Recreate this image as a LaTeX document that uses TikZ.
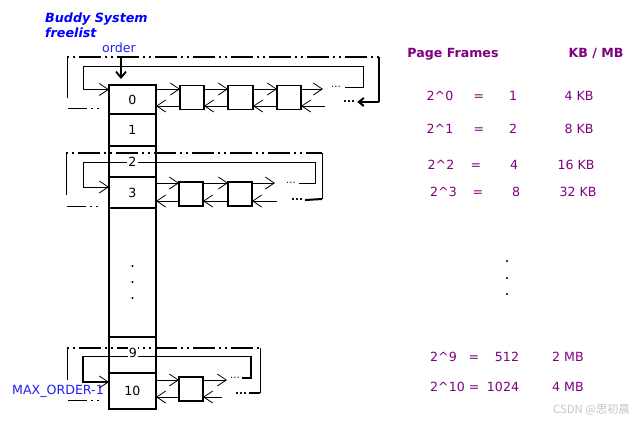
\documentclass[tikz,border=0pt]{standalone}
\usepackage{fontspec}
\setmainfont{DejaVu Sans}
\newfontfamily\cjk{Noto Sans CJK SC}
\usetikzlibrary{arrows.meta,calc}
\definecolor{pur}{HTML}{800080}
\definecolor{lblue}{HTML}{1F1FF0}
\definecolor{wm}{HTML}{C4C4C4}
\tikzset{
 cell/.style={draw,line width=1.6pt,minimum width=47pt,inner sep=0pt,outer sep=0pt},
 blk/.style={draw,line width=1.6pt,minimum width=24pt,minimum height=24pt,inner sep=0pt,outer sep=0pt},
 nx/.style={line width=0.8pt,-{Straight Barb[length=9pt,width=12pt,line width=0.8pt]}},
 ln/.style={line width=0.8pt},
 thk/.style={line width=2pt},
 thkarr/.style={line width=2pt,-{Straight Barb[length=5pt,width=8pt]}},
 ordarr/.style={line width=1.8pt,-{Straight Barb[length=6pt,width=10pt]}},
 ddot/.style={line width=1.3pt,dash pattern=on 2pt off 4pt on 2pt off 4pt on 22pt off 4pt},
 bl/.style={line width=0.8pt,dash pattern=on 19pt off 4pt on 2pt off 4pt on 2pt off 40pt},
 sdots/.style={font=\fontsize{10}{10}\selectfont,inner sep=0pt},
 bdots/.style={font=\fontsize{10.5}{10}\selectfont\bfseries,inner sep=0pt},
 lbl/.style={fill=white,inner sep=1pt},
 ptxt/.style={text=pur,anchor=base,inner sep=0pt},
 pdot/.style={circle,fill,inner sep=0pt,minimum size=2.4pt},
}
\begin{document}
\begin{tikzpicture}[x=1pt,y=-1pt,font=\fontsize{12.6}{14}\selectfont]
\useasboundingbox (0,0) rectangle (636,421);

% titles
\node[anchor=base west,text=blue,inner sep=0pt,font=\fontsize{12.7}{14}\selectfont\bfseries\itshape] (t1) at (45,22) {Buddy System};
\node[anchor=base west,text=blue,inner sep=0pt,font=\fontsize{12.7}{14}\selectfont\bfseries\itshape] (t2) at (45,37) {freelist};
\node[anchor=base,text=lblue,inner sep=0pt] (ord) at (119,52) {order};
\node[anchor=base east,text=lblue,inner sep=0pt] (mx) at (104,394) {MAX\_ORDER-1};

% ---------- list of order 0 ----------
\coordinate (p0a) at (67,98);
\coordinate (p0b) at (67,57);
\coordinate (p0c) at (379,57);
\coordinate (p0d) at (379,102);
\coordinate (q0) at (68,108);
\coordinate (k0a) at (363,66);
\coordinate (k0b) at (83,66);
\coordinate (e0n) at (323,89);
\coordinate (e0p) at (325,106);
\coordinate (o1) at (121,57);

\node[cell,minimum height=29pt] (c0) at (132.5,99.5) {0};
\node[cell,minimum height=32pt] (c1) at (132.5,130) {1};
\node[cell,minimum height=31pt] (c2) at (132.5,161.5) {};
\node[cell,minimum height=31pt] (c3) at (132.5,192.5) {3};
\node[cell,minimum height=129pt] (cd) at (132.5,272.5) {};
\node[cell,minimum height=36pt] (c9) at (132.5,355) {};
\node[cell,minimum height=36pt] (c10) at (132.5,391) {10};

\node[blk] (a1) at (192,97.5) {};
\node[blk,minimum width=25pt] (a2) at (240.5,97.5) {};
\node[blk] (a3) at (289,97.5) {};
\node[sdots] (t0n) at (336,87) {...};
\node[bdots] (t0p) at (349,102) {...};

\draw[ordarr,shorten >=6pt] (o1) -- (c0.north -| o1);

\draw[nx] ($(c0.east|-a1.west)+(0,-8.5)$) -- ($(a1.west)+(0,-8.5)$);
\draw[nx] ($(a1.east)+(0,-8.5)$) -- ($(a2.west)+(0,-8.5)$);
\draw[nx] ($(a2.east)+(0,-8.5)$) -- ($(a3.west)+(0,-8.5)$);
\draw[nx] ($(a3.east)+(0,-8.5)$) -- (e0n);
\draw[nx] ($(a1.west)+(0,8.5)$) -- ($(c0.east|-a1.west)+(0,8.5)$);
\draw[nx] ($(a2.west)+(0,8.5)$) -- ($(a1.east)+(0,8.5)$);
\draw[nx] ($(a3.west)+(0,8.5)$) -- ($(a2.east)+(0,8.5)$);
\draw[nx] (e0p) -- ($(a3.east)+(0,8.5)$);

\draw[nx] ([xshift=4pt]t0n.east) -| (k0a) -| (k0b) |- ($(c0.west)+(0,-10)$);
\draw[ln] (p0a) -- (p0b);
\draw[ddot] (p0b) -- (p0c);
\draw[thk] (p0c) -- (p0d);
\draw[thkarr] (p0d) -- ([xshift=2pt]t0p.east);
\draw[bl] (q0) -- (c0.west|-q0);

% ---------- list of order 3 ----------
\coordinate (p3a) at (66,195);
\coordinate (p3b) at (66,153);
\coordinate (p3c) at (322,153);
\coordinate (p3d) at (322,199);
\coordinate (q3) at (67,206);
\coordinate (k3a) at (315,162);
\coordinate (k3b) at (83,162);
\coordinate (e3n) at (275,183);
\coordinate (e3p) at (277,201);

\node[blk] (b1) at (191,194) {};
\node[blk] (b2) at (240,194) {};
\node[sdots] (t3n) at (291,183) {...};
\node[bdots] (t3p) at (297,200) {...};

\draw[nx] ($(c3.east|-b1.west)+(0,-11)$) -- ($(b1.west)+(0,-11)$);
\draw[nx] ($(b1.east)+(0,-11)$) -- ($(b2.west)+(0,-11)$);
\draw[nx] ($(b2.east)+(0,-11)$) -- (e3n);
\draw[nx] ($(b1.west)+(0,7)$) -- ($(c3.east|-b1.west)+(0,7)$);
\draw[nx] ($(b2.west)+(0,7)$) -- ($(b1.east)+(0,7)$);
\draw[nx] (e3p) -- ($(b2.east)+(0,7)$);

\draw[nx] ([xshift=3pt]t3n.east) -| (k3a) -| (k3b) |- ($(c3.west)+(0,-5.5)$);
\draw[ln] (p3a) -- (p3b);
\draw[ddot] (p3b) -- (p3c);
\draw[ln] (p3c) -- (p3d);
\draw[thk] (p3d) -- ([xshift=2pt]t3p.east);
\draw[bl] (q3) -- (c3.west|-q3);
\node[lbl] (l2) at (132.5,162) {2};

% ---------- list of order 10 ----------
\coordinate (p10a) at (67,380);
\coordinate (p10b) at (67,348);
\coordinate (p10c) at (260,348);
\coordinate (p10d) at (260,393);
\coordinate (q10) at (68,400);
\coordinate (k10a) at (251,356.5);
\coordinate (k10b) at (83,356.5);
\coordinate (e10n) at (227,380);
\coordinate (e10p) at (222,397);

\node[blk] (d1) at (191,389) {};
\node[sdots] (t10n) at (235,378) {...};
\node[bdots] (t10p) at (241,393) {...};

\draw[nx] ($(c10.east|-d1.west)+(0,-9)$) -- ($(d1.west)+(0,-9)$);
\draw[nx] ($(d1.east)+(0,-9)$) -- (e10n);
\draw[nx] ($(d1.west)+(0,8)$) -- ($(c10.east|-d1.west)+(0,8)$);
\draw[nx] (e10p) -- ($(d1.east)+(0,8)$);

\draw[nx,line width=1.5pt] ([xshift=2pt]t10n.east) -| (k10a) -| (k10b) |- ($(c10.west)+(0,-9)$);
\draw[ln] (p10a) -- (p10b);
\draw[ddot,line width=2pt] (p10b) -- (p10c);
\draw[ln] (p10c) -- (p10d);
\draw[thk] (p10d) -- ([xshift=2pt]t10p.east);
\draw[bl] (q10) -- (c10.west|-q10);
\node[lbl] (l9) at (133,352.6) {9};

% dots in the column
\node[pdot] (cd1) at (132.5,266) {};
\node[pdot] (cd2) at (132.5,282) {};
\node[pdot] (cd3) at (132.5,298) {};

% ---------- right table ----------
\node[ptxt,font=\fontsize{12.6}{14}\selectfont\bfseries] (h1) at (453,57.5) {Page Frames};
\node[ptxt,font=\fontsize{12.6}{14}\selectfont\bfseries] (h2) at (596,57.5) {KB / MB};

\node[ptxt] (r0a) at (440,100.5) {2\textasciicircum 0};
\node[ptxt] (r0b) at (479,100.5) {=};
\node[ptxt] (r0c) at (513,100.5) {1};
\node[ptxt] (r0d) at (579,100.5) {4 KB};

\node[ptxt] (r1a) at (440,133) {2\textasciicircum 1};
\node[ptxt] (r1b) at (479,133) {=};
\node[ptxt] (r1c) at (513,133) {2};
\node[ptxt] (r1d) at (579,133) {8 KB};

\node[ptxt] (r2a) at (441,169) {2\textasciicircum 2};
\node[ptxt] (r2b) at (476,169) {=};
\node[ptxt] (r2c) at (514,169) {4};
\node[ptxt] (r2d) at (576,169) {16 KB};

\node[ptxt] (r3a) at (443.5,196.5) {2\textasciicircum 3};
\node[ptxt] (r3b) at (478,196.5) {=};
\node[ptxt] (r3c) at (516,196.5) {8};
\node[ptxt] (r3d) at (578,196.5) {32 KB};

\node[pdot] (rd1) at (507,261) {};
\node[pdot] (rd2) at (507,278) {};
\node[pdot] (rd3) at (507,294) {};

\node[ptxt] (r9a) at (443.5,361.5) {2\textasciicircum 9};
\node[ptxt] (r9b) at (474,361.5) {=};
\node[ptxt] (r9c) at (507,361.5) {512};
\node[ptxt] (r9d) at (568,361.5) {2 MB};

\node[ptxt,anchor=base west] (r10a) at (430,391.5) {2\textasciicircum 10 =};
\node[ptxt] (r10c) at (503,391.5) {1024};
\node[ptxt] (r10d) at (568,391.5) {4 MB};

% watermark
\node[anchor=base west,inner sep=0pt,text=wm,font=\fontsize{11.3}{12}\cjk] (wmk) at (553,413) {CSDN @思初晨};
\end{tikzpicture}
\end{document}
